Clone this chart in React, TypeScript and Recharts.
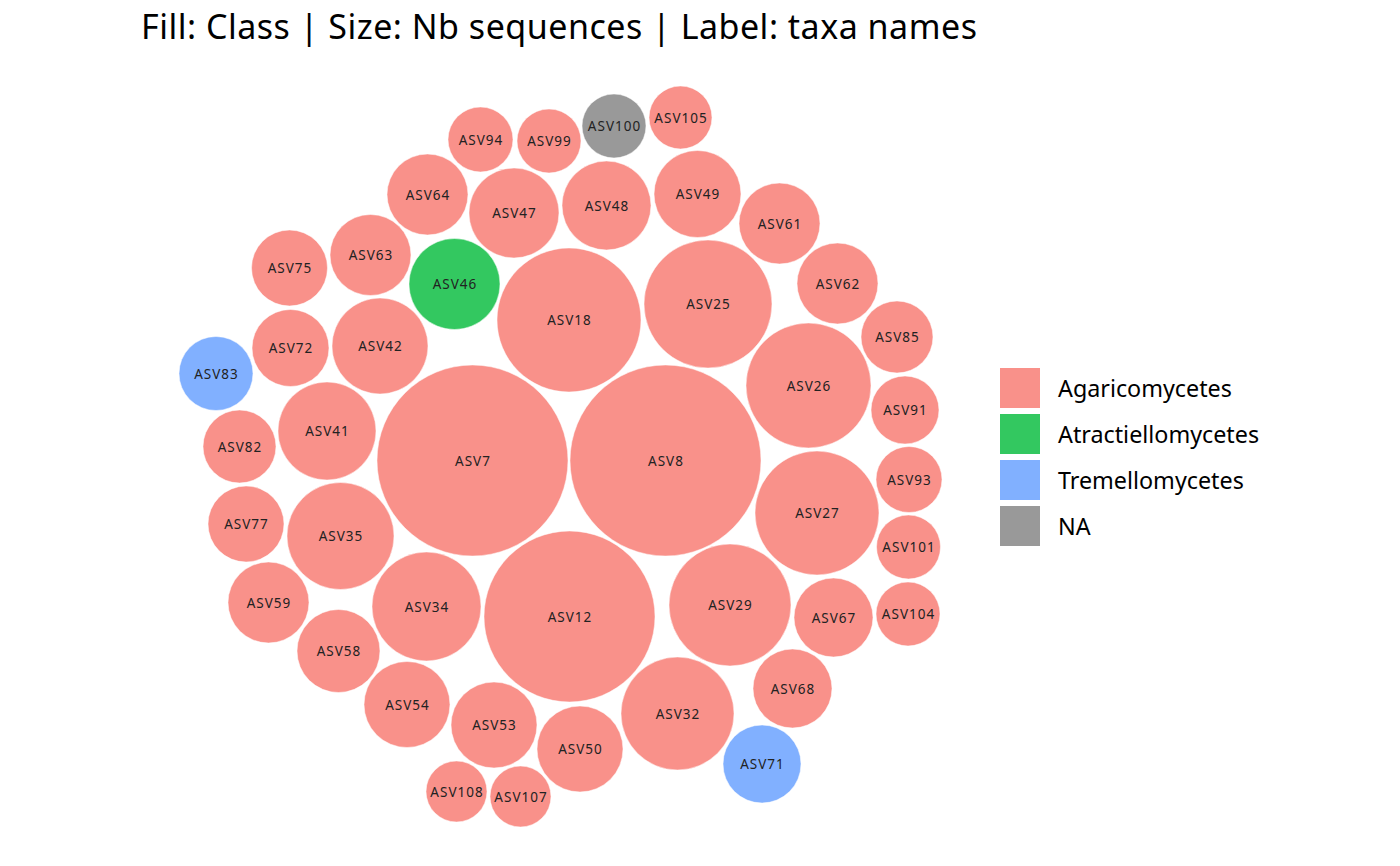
import { ScatterChart, Scatter, XAxis, YAxis, Legend } from 'recharts';

const asvNames = [
  'ASV7', 'ASV8', 'ASV12', 'ASV18', 'ASV25', 'ASV26', 'ASV27', 'ASV29', 'ASV32', 'ASV34',
  'ASV35', 'ASV41', 'ASV42', 'ASV46', 'ASV47', 'ASV48', 'ASV49', 'ASV50', 'ASV53', 'ASV54',
  'ASV58', 'ASV59', 'ASV61', 'ASV62', 'ASV63', 'ASV64', 'ASV67', 'ASV68', 'ASV71', 'ASV72',
  'ASV75', 'ASV77', 'ASV82', 'ASV83', 'ASV85', 'ASV91', 'ASV93', 'ASV94', 'ASV99', 'ASV100',
  'ASV101', 'ASV104', 'ASV105', 'ASV107', 'ASV108',
];

const asvClass = [
  'Agaricomycetes', 'Agaricomycetes', 'Agaricomycetes', 'Agaricomycetes', 'Agaricomycetes',
  'Agaricomycetes', 'Agaricomycetes', 'Agaricomycetes', 'Agaricomycetes', 'Agaricomycetes',
  'Agaricomycetes', 'Agaricomycetes', 'Agaricomycetes', 'Atractiellomycetes', 'Agaricomycetes',
  'Agaricomycetes', 'Agaricomycetes', 'Agaricomycetes', 'Agaricomycetes', 'Agaricomycetes',
  'Agaricomycetes', 'Agaricomycetes', 'Agaricomycetes', 'Agaricomycetes', 'Agaricomycetes',
  'Agaricomycetes', 'Agaricomycetes', 'Agaricomycetes', 'Tremellomycetes', 'Agaricomycetes',
  'Agaricomycetes', 'Agaricomycetes', 'Agaricomycetes', 'Tremellomycetes', 'Agaricomycetes',
  'Agaricomycetes', 'Agaricomycetes', 'Agaricomycetes', 'Agaricomycetes', 'NA',
  'Agaricomycetes', 'Agaricomycetes', 'Agaricomycetes', 'Agaricomycetes', 'Agaricomycetes',
];

// packed layout positions (data units = px) and radius
const asvX = [
  472.5, 665.5, 569.5, 569, 708, 808.5, 817, 730, 677.5, 426.5,
  340.5, 327, 380, 454.5, 514, 606.5, 697.5, 580, 494, 407,
  338.5, 268.5, 779.5, 837.5, 370.5, 427.5, 833.5, 792.5, 762, 290.5,
  289.5, 246, 239.5, 216, 897, 905, 909, 480.5, 549, 614,
  908.5, 908, 680.5, 520.5, 456.5,
];
const asvY = [
  460.5, 460.5, 616.5, 320, 304, 385.5, 513, 605, 713.5, 606.5,
  536, 431, 346, 284, 213, 205.5, 194, 749, 725, 704.5,
  651, 602.5, 223.5, 283.5, 255, 194.5, 617.5, 688.5, 764, 348,
  268, 524, 446.5, 373.5, 337, 410, 479.5, 139.5, 141, 126,
  547, 614, 117.5, 796.5, 791.5,
];
const asvRadius = [
  95.5, 95.5, 85.5, 72, 64, 62.5, 62, 61, 56.5, 54.5,
  53.5, 49, 48, 45.5, 45, 44.5, 43.5, 43, 43, 43,
  41.5, 40.5, 40.5, 40.5, 40.5, 40.5, 39.5, 39.5, 39, 38.5,
  38, 38, 36.5, 37, 36, 34, 33, 32.5, 32, 32,
  32, 32, 31.5, 30.5, 30.5,
];

const classNames = ['Agaricomycetes', 'Atractiellomycetes', 'Tremellomycetes', 'NA'];
const classColors = ['#f9918a', '#33c860', '#81b0ff', '#999999'];

const WIDTH = 1400;
const HEIGHT = 866;
const FONT = "'Noto Sans', sans-serif";

const bubbles = asvNames.map((name, i) => ({
  name,
  cls: asvClass[i],
  x: asvX[i],
  y: asvY[i],
  r: asvRadius[i],
}));

const colorOf = (cls: string) => classColors[classNames.indexOf(cls)];

function Bubble(props: any) {
  const { cx, cy, payload } = props;
  return (
    <g>
      <circle cx={cx} cy={cy} r={payload.r} fill={colorOf(payload.cls)} stroke="#ffffff" strokeWidth={0.5} />
      <text
        x={cx + 0.5}
        y={cy}
        textAnchor="middle"
        dominantBaseline="central"
        fontFamily={FONT}
        fontSize={13.5}
        letterSpacing={1}
        fill="#222222"
      >
        {payload.name}
      </text>
    </g>
  );
}

function ClassLegend() {
  return (
    <div style={{ fontFamily: FONT }}>
      {classNames.map((c, i) => (
        <div key={c} style={{ display: 'flex', alignItems: 'center', height: 46 }}>
          <div style={{ width: 40, height: 40, background: classColors[i] }} />
          <span style={{ marginLeft: 18, fontSize: 23.3, color: '#000' }}>{c}</span>
        </div>
      ))}
    </div>
  );
}

export default function App() {
  return (
    <div style={{ position: 'absolute', left: 0, top: 0, width: WIDTH, height: HEIGHT, background: '#fff' }}>
      <div
        style={{
          position: 'absolute',
          left: 141,
          top: 9,
          fontFamily: FONT,
          fontSize: 34,
          lineHeight: '34px',
          letterSpacing: 0.5,
          color: '#000',
          whiteSpace: 'nowrap',
        }}
      >
        Fill: Class | Size: Nb sequences | Label: taxa names
      </div>
      <ScatterChart width={WIDTH} height={HEIGHT} margin={{ top: 0, right: 0, bottom: 0, left: 0 }}>
        <XAxis type="number" dataKey="x" domain={[0, WIDTH]} hide allowDataOverflow />
        <YAxis type="number" dataKey="y" domain={[0, HEIGHT]} reversed hide allowDataOverflow width={0} />
        <Legend
          layout="vertical"
          align="center"
          verticalAlign="middle"
          content={ClassLegend}
          wrapperStyle={{ left: 1000, top: 365, width: 300 }}
        />
        <Scatter data={bubbles} shape={Bubble} isAnimationActive={false} />
      </ScatterChart>
    </div>
  );
}
